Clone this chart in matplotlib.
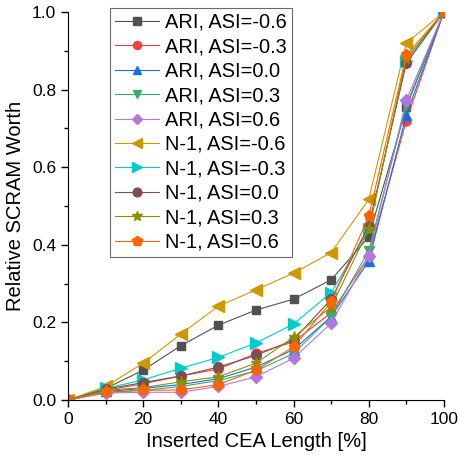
import numpy as np
import matplotlib.pyplot as plt
from matplotlib.ticker import MultipleLocator

plt.rcParams['font.family'] = ['Liberation Sans', 'DejaVu Sans']

x = [0, 10, 20, 30, 40, 50, 60, 70, 80, 90, 100]

labels = ['ARI, ASI=-0.6', 'ARI, ASI=-0.3', 'ARI, ASI=0.0', 'ARI, ASI=0.3', 'ARI, ASI=0.6',
          'N-1, ASI=-0.6', 'N-1, ASI=-0.3', 'N-1, ASI=0.0', 'N-1, ASI=0.3', 'N-1, ASI=0.6']

ari_m06 = [0, 0.030, 0.077, 0.140, 0.193, 0.232, 0.260, 0.310, 0.420, 0.755, 1.0]
ari_m03 = [0, 0.025, 0.042, 0.062, 0.080, 0.120, 0.150, 0.225, 0.370, 0.720, 1.0]
ari_00 = [0, 0.022, 0.030, 0.040, 0.055, 0.085, 0.130, 0.215, 0.358, 0.735, 1.0]
ari_03 = [0, 0.020, 0.025, 0.035, 0.050, 0.075, 0.120, 0.215, 0.385, 0.760, 1.0]
ari_06 = [0, 0.018, 0.020, 0.020, 0.035, 0.060, 0.108, 0.198, 0.371, 0.773, 1.0]
n1_m06 = [0, 0.035, 0.095, 0.170, 0.242, 0.284, 0.327, 0.380, 0.517, 0.920, 1.0]
n1_m03 = [0, 0.030, 0.052, 0.082, 0.110, 0.147, 0.196, 0.277, 0.440, 0.875, 1.0]
n1_00 = [0, 0.028, 0.045, 0.062, 0.085, 0.115, 0.155, 0.260, 0.449, 0.868, 1.0]
n1_03 = [0, 0.025, 0.032, 0.047, 0.060, 0.095, 0.162, 0.240, 0.440, 0.880, 1.0]
n1_06 = [0, 0.020, 0.025, 0.026, 0.040, 0.077, 0.137, 0.253, 0.474, 0.889, 1.0]

series = [ari_m06, ari_m03, ari_00, ari_03, ari_06, n1_m06, n1_m03, n1_00, n1_03, n1_06]

# origin-like palette
colors = ['#515151', '#F14040', '#1A6FDF', '#37AD6B', '#B177DE',
          '#CC9900', '#00CBCC', '#7D4E4E', '#8E8E00', '#FB6501']
markers = ['s', 'o', '^', 'v', 'D', '<', '>', 'o', '*', 'p']
sizes = [6, 6.5, 7, 7, 6, 8, 8, 7, 8, 8]

fig = plt.figure(figsize=(4.6, 4.63), dpi=100)
ax = fig.add_axes([0.148, 0.136, 0.817, 0.838])

for y, lab, c, m, s in zip(series, labels, colors, markers, sizes):
    ax.plot(x, y, color=c, marker=m, markersize=s, linewidth=0.8, label=lab)

ax.set_xlim(0, 100)
ax.set_ylim(0, 1.0)
ax.xaxis.set_major_locator(MultipleLocator(20))
ax.xaxis.set_minor_locator(MultipleLocator(10))
ax.yaxis.set_major_locator(MultipleLocator(0.2))
ax.yaxis.set_minor_locator(MultipleLocator(0.1))
ax.yaxis.set_major_formatter(plt.FormatStrFormatter('%.1f'))
ax.spines['top'].set_visible(False)
ax.spines['right'].set_visible(False)
ax.tick_params(which='major', direction='out', length=5, width=1, labelsize=12.5)
ax.tick_params(which='minor', direction='out', length=3, width=1)
ax.set_xlabel('Inserted CEA Length [%]', fontsize=14.5)
ax.set_ylabel('Relative SCRAM Worth', fontsize=14.5, labelpad=5)

leg = ax.legend(loc='upper left', bbox_to_anchor=(110 / 460, 455 / 463),
                bbox_transform=fig.transFigure, fontsize=14.4, frameon=True,
                fancybox=False, edgecolor='#444444', handlelength=2.2, labelspacing=0.27,
                borderpad=0.25, handletextpad=0.3, borderaxespad=0, markerscale=0.9)
leg.get_frame().set_linewidth(0.8)
leg.set_clip_on(False)

fig.savefig('out.png', dpi=100)
